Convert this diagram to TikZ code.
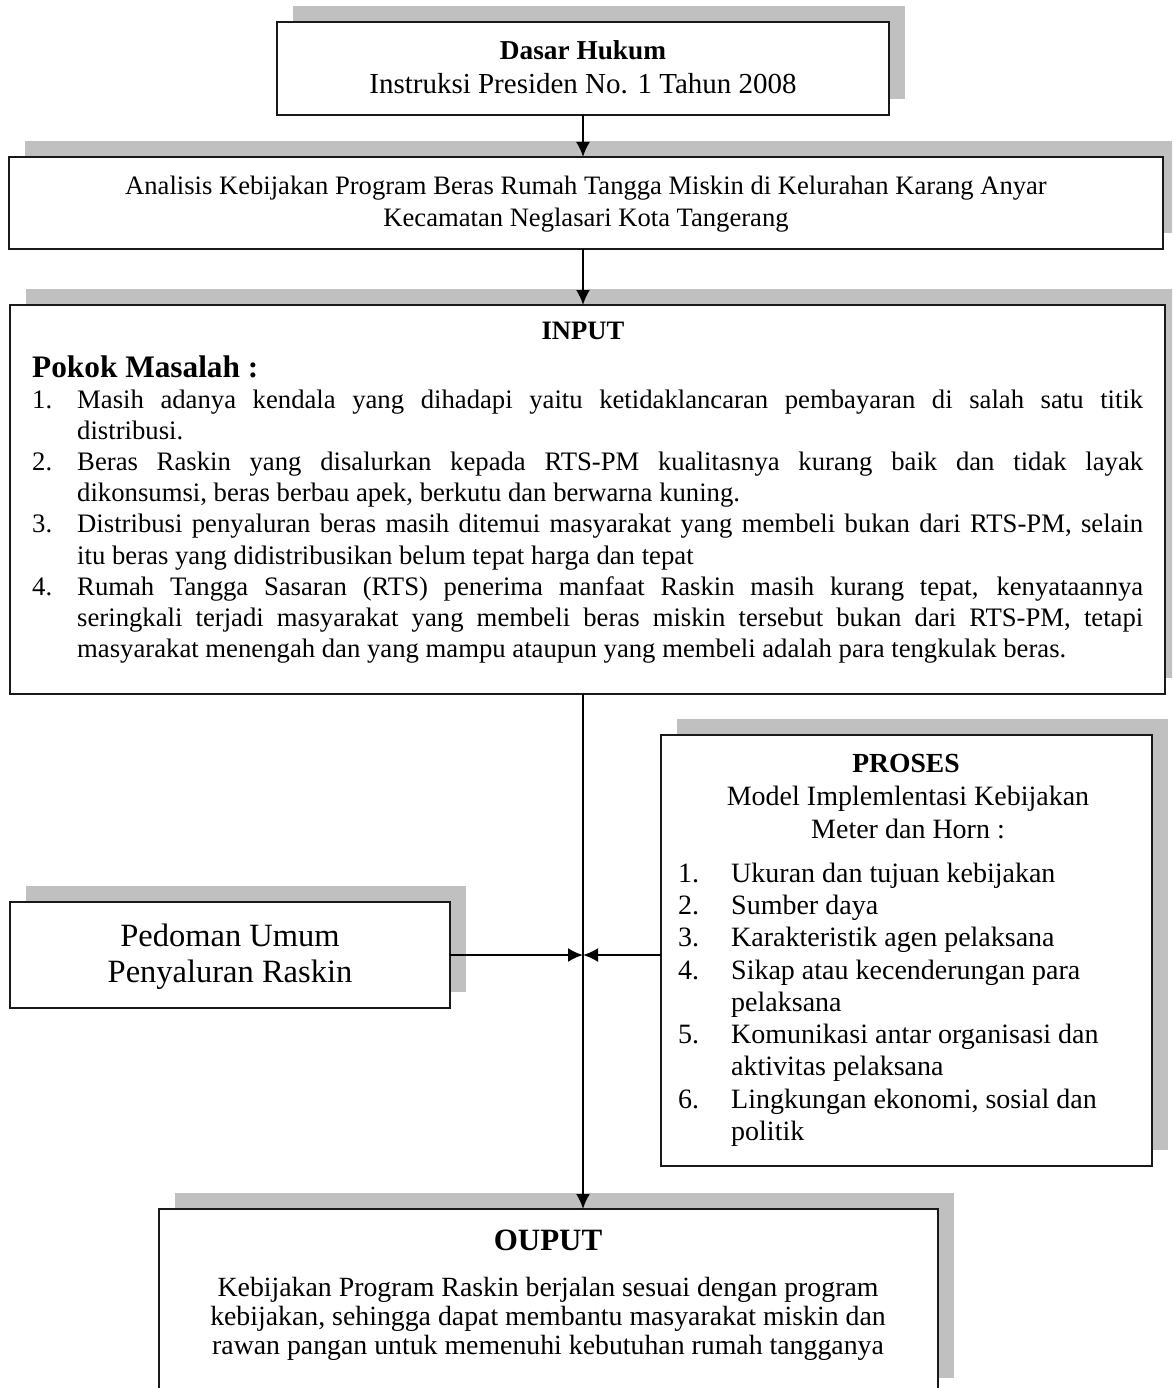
\documentclass[tikz,border=0pt]{standalone}
\usepackage{fontspec}
\setmainfont{Liberation Serif}
\usetikzlibrary{arrows.meta}
\definecolor{shade}{HTML}{C0C0C0}
\newcommand{\fsz}[2]{\fontsize{#1}{#2}\selectfont}
\newcommand{\jline}[1]{\makebox[1066pt][s]{#1}}
\begin{document}
\begin{tikzpicture}[x=1pt,y=-1pt,
  shbox/.style={draw=black!90, line width=1.4pt, fill=white, inner sep=0pt, outer sep=0pt,
    anchor=north west, rectangle,
    preaction={fill=shade, transform canvas={xshift=16pt,yshift=16pt}}},
  txt/.style={inner sep=0pt, anchor=base},
  ltxt/.style={inner sep=0pt, anchor=base west},
  itm/.style={ltxt, font=\fsz{26.7}{31}},
  ptm/.style={ltxt, font=\fsz{28}{32}},
  arr/.style={line width=2.2pt, -{Latex[length=15pt,width=14pt]}}]
\useasboundingbox (0,0) rectangle (1172,1388);
\clip (0,0) rectangle (1172,1388);
\coordinate (spine) at (583,0);

% boxes
\node[shbox, minimum width=612pt, minimum height=93pt] (b1) at (277,22) {};
\node[shbox, minimum width=1154pt, minimum height=92pt] (b2) at (9,157) {};
\node[shbox, line width=2.2pt, minimum width=1155pt, minimum height=389pt] (b3) at (10,305) {};
\node[shbox, minimum width=491pt, minimum height=431pt] (b4) at (661,735) {};
\node[shbox, minimum width=440pt, minimum height=106pt] (b5) at (10,902) {};
\node[shbox, minimum width=779pt, minimum height=185pt] (b6) at (159,1209) {};

% box 1 text
\node[txt] (t1a) at (583,60) {\fsz{27.3}{32}\bfseries Dasar Hukum};
\node[txt] (t1b) at (583,94) {\fsz{29}{34}Instruksi Presiden No. 1 Tahun 2008};

% box 2 text
\node[txt] (t2a) at (586,195) {\fsz{26.6}{32}Analisis Kebijakan Program Beras Rumah Tangga Miskin di Kelurahan Karang Anyar};
\node[txt] (t2b) at (586,227) {\fsz{26.6}{32}Kecamatan Neglasari Kota Tangerang};

% box 3 text
\node[txt] (t3a) at (583,339) {\fsz{26.6}{32}\bfseries INPUT};
\node[ltxt] (t3b) at (32,377) {\fsz{31.3}{36}\bfseries Pokok Masalah :};
\node[itm] (n1) at (32,408) {1.};
\node[itm] (l1a) at (77,408) {\jline{Masih adanya kendala yang dihadapi yaitu ketidaklancaran pembayaran di salah satu titik}};
\node[itm] (l1b) at (77,439) {distribusi.};
\node[itm] (n2) at (32,470) {2.};
\node[itm] (l2a) at (77,470) {\jline{Beras Raskin yang disalurkan kepada RTS-PM kualitasnya kurang baik dan tidak layak}};
\node[itm] (l2b) at (77,501) {dikonsumsi, beras berbau apek, berkutu dan berwarna kuning.};
\node[itm] (n3) at (32,532) {3.};
\node[itm] (l3a) at (77,532) {\jline{Distribusi penyaluran beras masih ditemui masyarakat yang membeli bukan dari RTS-PM, selain}};
\node[itm] (l3b) at (77,564) {itu beras yang didistribusikan belum tepat harga dan tepat};
\node[itm] (n4) at (32,595) {4.};
\node[itm] (l4a) at (77,595) {\jline{Rumah Tangga Sasaran (RTS) penerima manfaat Raskin masih kurang tepat, kenyataannya}};
\node[itm] (l4b) at (77,626) {\jline{seringkali terjadi masyarakat yang membeli beras miskin tersebut bukan dari RTS-PM, tetapi}};
\node[itm] (l4c) at (77,657) {masyarakat menengah dan yang mampu ataupun yang membeli adalah para tengkulak beras.};

% box 4 text (PROSES)
\node[txt] (t4a) at (906,772) {\fsz{27.6}{32}\bfseries PROSES};
\node[txt] (t4b) at (908,805) {\fsz{28}{33}Model Implemlentasi Kebijakan};
\node[txt] (t4c) at (908,838) {\fsz{28}{33}Meter dan Horn :};
\node[ptm] (p1) at (678,882) {1.};
\node[ptm] (q1) at (731,882) {Ukuran dan tujuan kebijakan};
\node[ptm] (p2) at (678,914) {2.};
\node[ptm] (q2) at (731,914) {Sumber daya};
\node[ptm] (p3) at (678,946) {3.};
\node[ptm] (q3) at (731,946) {Karakteristik agen pelaksana};
\node[ptm] (p4) at (678,979) {4.};
\node[ptm] (q4) at (731,979) {Sikap atau kecenderungan para};
\node[ptm] (q4b) at (731,1011) {pelaksana};
\node[ptm] (p5) at (678,1043) {5.};
\node[ptm] (q5) at (731,1043) {Komunikasi antar organisasi dan};
\node[ptm] (q5b) at (731,1075) {aktivitas pelaksana};
\node[ptm] (p6) at (678,1108) {6.};
\node[ptm] (q6) at (731,1108) {Lingkungan ekonomi, sosial dan};
\node[ptm] (q6b) at (731,1140) {politik};

% box 5 text
\node[txt] (t5a) at (230,946) {\fsz{32.5}{36}Pedoman Umum};
\node[txt] (t5b) at (230,982) {\fsz{32.5}{36}Penyaluran Raskin};

% box 6 text
\node[txt] (t6a) at (548,1250) {\fsz{31}{36}\bfseries OUPUT};
\node[txt] (t6b) at (548,1296) {\fsz{27.8}{29}Kebijakan Program Raskin berjalan sesuai dengan program};
\node[txt] (t6c) at (548,1325) {\fsz{27.8}{29}kebijakan, sehingga dapat membantu masyarakat miskin dan};
\node[txt] (t6d) at (548,1354) {\fsz{27.8}{29}rawan pangan untuk memenuhi kebutuhan rumah tangganya};

% connectors
\draw[arr] (b1.south -| spine) -- (b2.north -| spine);
\draw[arr] (b2.south -| spine) -- (b3.north -| spine);
\draw[arr] (b3.south -| spine) -- (b6.north -| spine);
\draw[arr] (b5.east) -- (b5.east -| spine);
\draw[arr] (b4.west |- b5.east) -- (b5.east -| spine);
\end{tikzpicture}
\end{document}
